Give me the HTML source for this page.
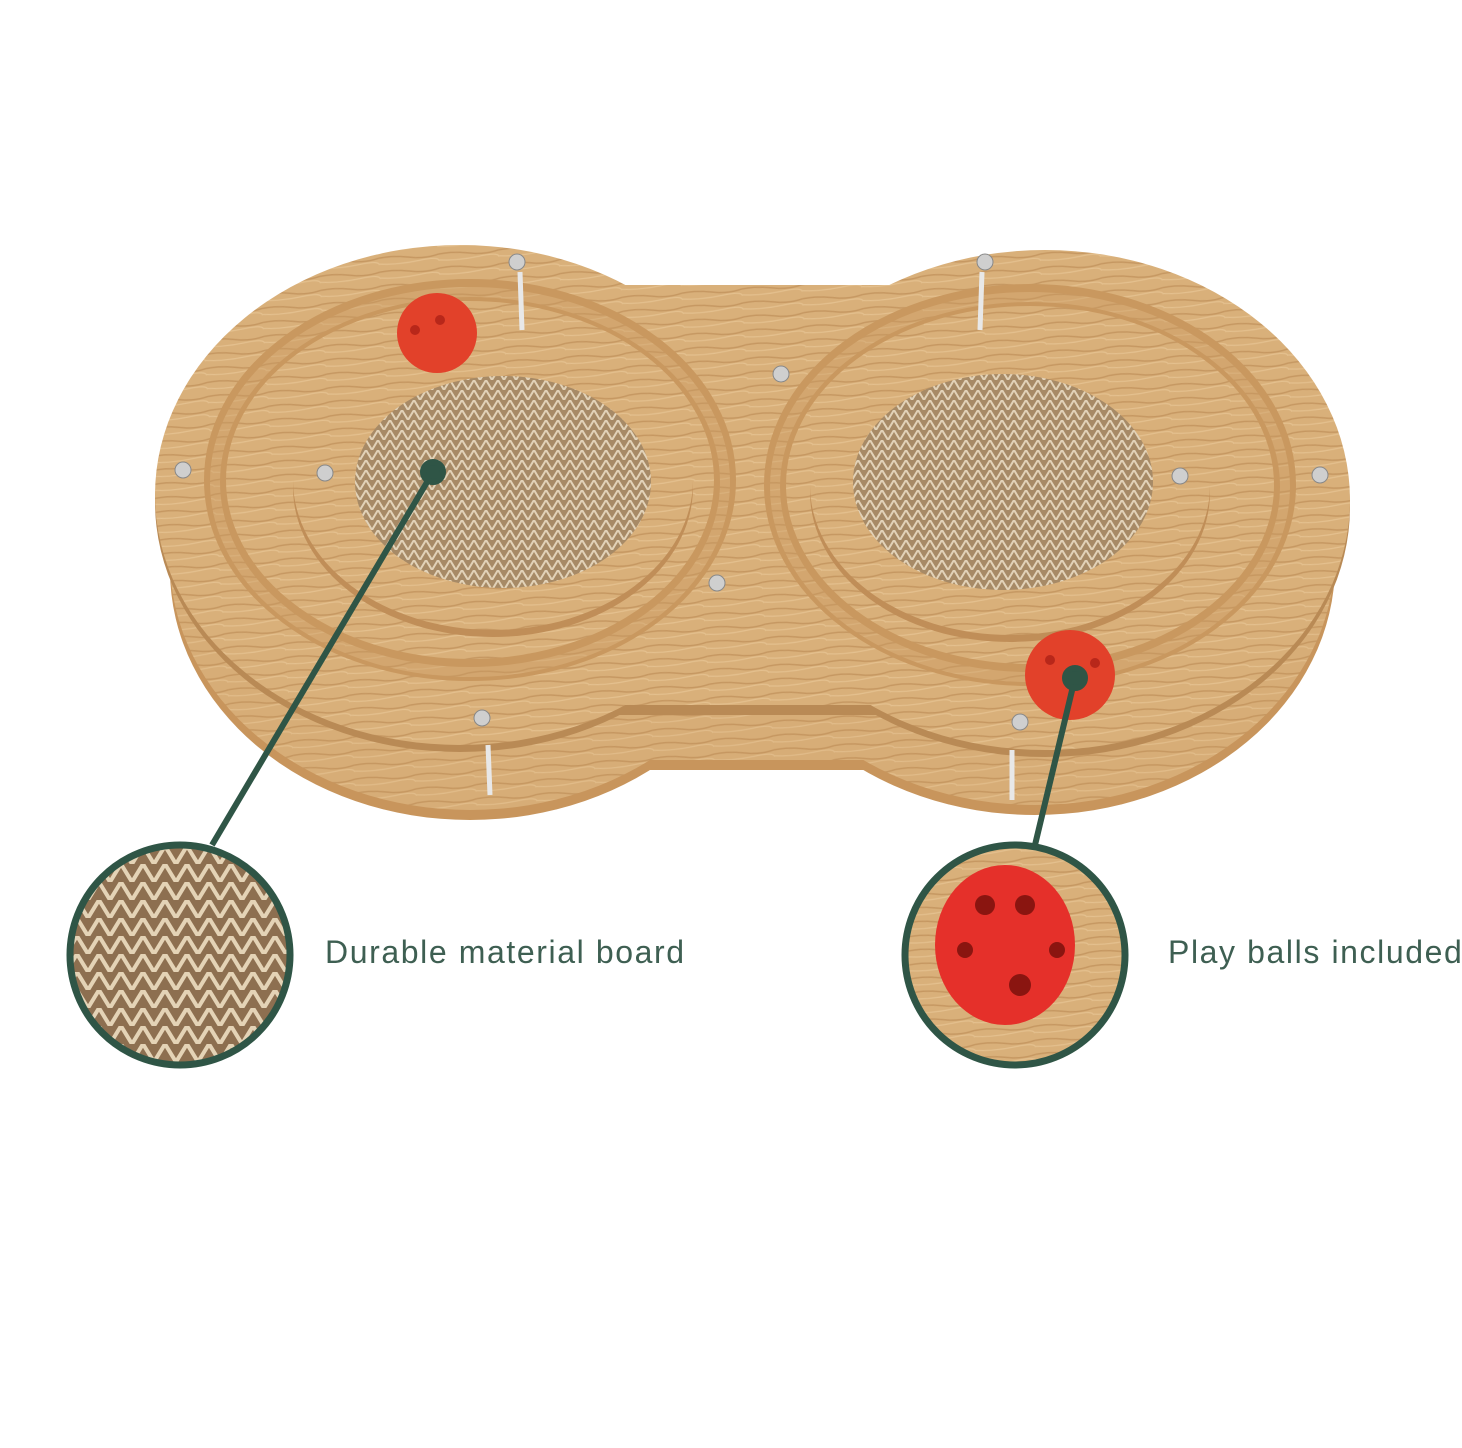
<!DOCTYPE html>
<html><head><meta charset="utf-8"><style>
html,body{margin:0;padding:0;background:#fff;}
body{width:1462px;height:1448px;overflow:hidden;position:relative;font-family:"Liberation Sans",sans-serif;}
.t{position:absolute;color:#3e5f52;font-size:32px;letter-spacing:1.6px;white-space:nowrap;}
</style></head><body>
<svg width="1462" height="1448" viewBox="0 0 1462 1448" style="position:absolute;left:0;top:0">
<defs>
<pattern id="wood" width="60" height="14" patternUnits="userSpaceOnUse" patternTransform="rotate(-4)">
<rect width="60" height="14" fill="#d9b07a"/>
<path d="M0 4 Q15 2 30 5 T60 4" stroke="#c69862" stroke-width="1.5" fill="none"/>
<path d="M0 10 Q20 12 40 9 T60 11" stroke="#e4c08e" stroke-width="1.2" fill="none"/>
</pattern>
<pattern id="card" width="12" height="10" patternUnits="userSpaceOnUse">
<rect width="12" height="10" fill="#a78a66"/>
<path d="M0 10 L6 0 L12 10" stroke="#e2d2b8" stroke-width="2" fill="none"/>
</pattern>
<pattern id="card2" width="22" height="18" patternUnits="userSpaceOnUse">
<rect width="22" height="18" fill="#8d6f50"/>
<path d="M0 18 L11 0 L22 18" stroke="#e4d3b6" stroke-width="4" fill="none"/>
</pattern>
<clipPath id="c1"><circle cx="180" cy="955" r="108"/></clipPath>
<clipPath id="c2"><circle cx="1015" cy="955" r="108"/></clipPath>
</defs>
<g fill="#c8955c">
<ellipse cx="470" cy="570" rx="300" ry="250"/>
<ellipse cx="1035" cy="565" rx="300" ry="250"/>
<rect x="600" y="360" width="300" height="410"/>
</g>
<g fill="url(#wood)" opacity="0.9">
<ellipse cx="470" cy="560" rx="300" ry="250"/>
<ellipse cx="1035" cy="555" rx="300" ry="250"/>
<rect x="600" y="350" width="300" height="410"/>
</g>
<g fill="#b98a55">
<ellipse cx="460" cy="502" rx="305" ry="250"/>
<ellipse cx="1045" cy="507" rx="305" ry="250"/>
<rect x="600" y="295" width="300" height="420"/>
</g>
<g fill="url(#wood)">
<ellipse cx="460" cy="495" rx="305" ry="250"/>
<ellipse cx="1045" cy="500" rx="305" ry="250"/>
<rect x="600" y="285" width="300" height="420"/>
</g>
<g fill="none" stroke="#c9985f" stroke-width="22">
<ellipse cx="470" cy="480" rx="255" ry="190"/>
<ellipse cx="1030" cy="485" rx="255" ry="190"/>
</g>
<g fill="none" stroke="url(#wood)" stroke-width="10" opacity="0.6">
<ellipse cx="470" cy="482" rx="255" ry="190"/>
<ellipse cx="1030" cy="487" rx="255" ry="190"/>
</g>
<ellipse cx="493" cy="487" rx="200" ry="150" fill="#c08e58"/>
<ellipse cx="493" cy="480" rx="200" ry="150" fill="url(#wood)"/>
<ellipse cx="1010" cy="492" rx="200" ry="150" fill="#c08e58"/>
<ellipse cx="1010" cy="485" rx="200" ry="150" fill="url(#wood)"/>
<ellipse cx="503" cy="482" rx="148" ry="106" fill="url(#card)"/>
<ellipse cx="1003" cy="482" rx="150" ry="108" fill="url(#card)"/>
<circle cx="437" cy="333" r="40" fill="#e2412a"/>
<circle cx="1070" cy="675" r="45" fill="#e2412a"/>
<g fill="#b8271a"><circle cx="1050" cy="660" r="5"/><circle cx="1075" cy="680" r="5"/><circle cx="1095" cy="663" r="5"/><circle cx="415" cy="330" r="5"/><circle cx="440" cy="320" r="5"/></g>
<g fill="#cfcfcf" stroke="#888" stroke-width="1">
<circle cx="517" cy="262" r="8"/><circle cx="985" cy="262" r="8"/><circle cx="183" cy="470" r="8"/><circle cx="325" cy="473" r="8"/>
<circle cx="781" cy="374" r="8"/><circle cx="717" cy="583" r="8"/><circle cx="1180" cy="476" r="8"/><circle cx="1320" cy="475" r="8"/>
<circle cx="482" cy="718" r="8"/><circle cx="1020" cy="722" r="8"/>
</g>
<g stroke="#e8e8e8" stroke-width="5"><line x1="520" y1="272" x2="522" y2="330"/><line x1="982" y1="272" x2="980" y2="330"/><line x1="488" y1="745" x2="490" y2="795"/><line x1="1012" y1="750" x2="1012" y2="800"/></g>
<g stroke="#2f5546" stroke-width="6" fill="#2f5546">
<line x1="433" y1="472" x2="212" y2="845"/>
<line x1="1075" y1="678" x2="1035" y2="845"/>
<circle cx="433" cy="472" r="10"/><circle cx="1075" cy="678" r="10"/>
</g>
<g clip-path="url(#c1)"><rect x="60" y="840" width="240" height="240" fill="url(#card2)"/></g>
<circle cx="180" cy="955" r="110" fill="none" stroke="#2f5546" stroke-width="7"/>
<g clip-path="url(#c2)"><rect x="895" y="840" width="240" height="240" fill="url(#wood)"/>
<ellipse cx="1005" cy="945" rx="70" ry="80" fill="#e5302a"/>
<g fill="#8a1510"><circle cx="985" cy="905" r="10"/><circle cx="1025" cy="905" r="10"/><circle cx="1020" cy="985" r="11"/><circle cx="965" cy="950" r="8"/><circle cx="1057" cy="950" r="8"/></g></g>
<circle cx="1015" cy="955" r="110" fill="none" stroke="#2f5546" stroke-width="7"/>
</svg>
<div class="t" style="left:325px;top:934px">Durable material board</div>
<div class="t" style="left:1168px;top:934px">Play balls included</div>
</body></html>
